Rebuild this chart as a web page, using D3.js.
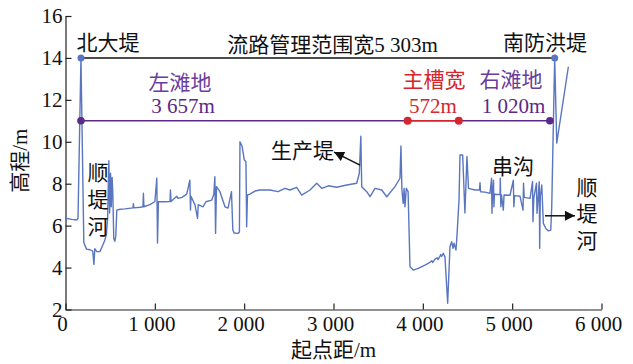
<!DOCTYPE html>
<html>
<head>
<meta charset="utf-8">
<script src="https://cdn.jsdelivr.net/npm/d3@7/dist/d3.min.js"></script>
<style>
  body { margin: 0; background: #fff; }
  text { font-family: "Liberation Serif", "Times New Roman", "Noto Sans CJK SC", serif; }
</style>
</head>
<body>
<svg id="chart" width="633" height="364"></svg>
<script>
// Cross-section survey: station (m from starting point) and bed elevation (m)
const station = [
  0, 70, 125, 140, 173, 205, 235, 275, 305, 318, 328, 350, 385, 418, 440, 458, 472, 485, 494, 504,
  512, 522, 530, 540, 552, 563, 574, 610, 665, 755, 760, 766, 835, 867, 872, 878, 945, 1000, 1022, 1030,
  1040, 1112, 1170, 1175, 1181, 1245, 1259, 1304, 1357, 1392, 1399, 1405, 1450, 1478, 1486, 1539, 1572, 1637, 1660, 1672,
  1680, 1690, 1729, 1785, 1819, 1858, 1873, 1886, 1931, 1947, 1953, 1976, 2002, 2020, 2028, 2037, 2065, 2121, 2177, 2289,
  2379, 2457, 2513, 2588, 2644, 2737, 2812, 2868, 2942, 3036, 3148, 3260, 3289, 3306, 3316, 3372, 3409, 3465, 3540, 3596,
  3688, 3744, 3755, 3766, 3780, 3790, 3800, 3815, 3835, 3856, 3893, 3949, 4024, 4080, 4100, 4110, 4136, 4160, 4170, 4192,
  4200, 4210, 4229, 4248, 4278, 4304, 4323, 4338, 4349, 4371, 4382, 4405, 4416, 4446, 4471, 4494, 4511, 4584, 4634, 4640,
  4646, 4696, 4752, 4769, 4774, 4780, 4791, 4796, 4802, 4864, 4867, 4873, 4881, 4901, 4909, 4976, 5013, 5019, 5027, 5088,
  5122, 5127, 5135, 5200, 5228, 5233, 5242, 5272, 5278, 5289, 5303, 5308, 5315, 5331, 5349, 5379, 5405, 5432, 5443, 5455,
  5476, 5499, 5629
];
const elevation = [
  6.35, 6.30, 6.27, 6.35, 14.0, 5.20, 4.88, 4.85, 4.78, 4.15, 4.90, 4.76, 4.76, 5.08, 5.30, 5.60, 6.40, 9.10, 6.60, 8.50,
  6.90, 8.30, 7.50, 5.40, 5.25, 5.50, 6.74, 6.78, 6.80, 6.85, 7.05, 6.85, 6.88, 6.90, 7.55, 6.90, 7.00, 7.14, 8.26, 5.17,
  7.14, 7.14, 7.15, 7.70, 7.15, 7.40, 7.30, 7.35, 7.50, 8.17, 6.74, 7.40, 6.98, 6.35, 7.00, 6.90, 7.14, 7.22, 7.50, 8.33,
  5.63, 7.86, 7.62, 6.90, 6.84, 7.62, 5.80, 5.65, 5.63, 5.70, 10.0, 9.80, 9.13, 9.05, 5.95, 7.46, 7.50, 7.65, 7.70, 7.70,
  7.62, 7.78, 7.70, 7.83, 7.46, 7.70, 8.02, 7.78, 7.90, 7.83, 7.94, 8.02, 8.50, 10.27, 7.86, 7.62, 7.38, 7.78, 7.70, 7.38,
  7.86, 8.26, 9.80, 7.70, 7.06, 7.78, 6.90, 7.78, 7.62, 4.04, 3.88, 3.96, 4.12, 4.25, 4.33, 4.24, 4.40, 4.47, 4.38, 4.55,
  4.62, 4.53, 4.68, 4.50, 2.30, 5.00, 5.23, 4.92, 5.16, 4.84, 5.50, 7.22, 9.37, 9.37, 6.60, 9.30, 7.78, 7.70, 7.70, 8.05,
  7.62, 7.60, 7.54, 8.26, 6.59, 7.50, 8.17, 6.90, 7.50, 7.48, 8.26, 6.90, 7.46, 6.74, 7.46, 7.45, 8.17, 6.90, 7.43, 7.40,
  6.74, 8.02, 7.35, 7.30, 8.10, 6.19, 7.30, 8.02, 6.59, 7.20, 8.10, 4.92, 7.40, 7.94, 6.11, 5.85, 5.75, 5.79, 6.90, 9.50,
  14.0, 9.94, 13.58
];

const xTicks = [0, 1000, 2000, 3000, 4000, 5000, 6000];
const yTicks = [2, 4, 6, 8, 10, 12, 14, 16];

// River management extents (m)
const northLevee = 173;
const managementWidth = 5303;
const leftFloodplainWidth = 3657;
const mainChannelWidth = 572;
const rightFloodplainWidth = 1020;
const leveeElevation = 14;
const floodplainElevation = 11;

const svg = d3.select("#chart");
const x = d3.scaleLinear().domain([0, 6000]).range([65.5, 601.5]);
const y = d3.scaleLinear().domain([2, 16]).range([309.5, 16]);

const fmt = d => d3.format(",")(d).replace(/,/g, " ");

// Axes with inward ticks
const gx = svg.append("g").attr("transform", `translate(0,${y(2)})`)
  .call(d3.axisBottom(x).tickValues(xTicks).tickFormat(fmt).tickSizeInner(-6).tickSizeOuter(0).tickPadding(7));
const gy = svg.append("g").attr("transform", `translate(${x(0)},0)`)
  .call(d3.axisLeft(y).tickValues(yTicks).tickSizeInner(-6).tickSizeOuter(0).tickPadding(3));
[gx, gy].forEach(g => {
  g.selectAll("path.domain").attr("stroke", "#222").attr("stroke-width", 1.2);
  g.selectAll(".tick line").attr("stroke", "#222").attr("stroke-width", 1.2);
  g.selectAll(".tick text").attr("font-size", 21).attr("fill", "#111")
    .style("font-family", '"Liberation Serif", serif');
});
gx.selectAll(".tick text").attr("dx", -3.5);

// Axis titles
svg.append("text").attr("x", x(3000)).attr("y", 357).attr("text-anchor", "middle")
  .attr("font-size", 21).attr("fill", "#111").text("起点距/m");
svg.append("text").attr("transform", `translate(27,${y(9.1)}) rotate(-90)`).attr("text-anchor", "middle")
  .attr("font-size", 21).attr("fill", "#111").text("高程/m");

// Bed profile
const profile = station.map((s, i) => [s, elevation[i]]);
svg.append("path").datum(profile)
  .attr("fill", "none").attr("stroke", "#5a76c0").attr("stroke-width", 1.4)
  .attr("stroke-linejoin", "round")
  .attr("d", d3.line().x(d => x(d[0])).y(d => y(d[1])));

// Management width between levees
const southLevee = northLevee + managementWidth;
svg.append("line").attr("x1", x(northLevee)).attr("x2", x(southLevee))
  .attr("y1", y(leveeElevation)).attr("y2", y(leveeElevation))
  .attr("stroke", "#111").attr("stroke-width", 1.5);
svg.selectAll("circle.levee").data([northLevee, southLevee]).join("circle")
  .attr("class", "levee").attr("cx", d => x(d)).attr("cy", y(leveeElevation)).attr("r", 3.5)
  .attr("fill", "#5a76c0");

// Floodplains and main channel
const channelLeft = northLevee + leftFloodplainWidth;
const channelRight = channelLeft + mainChannelWidth;
const floodplainRight = channelRight + rightFloodplainWidth;
const purple = "#5b2a88";
const red = "#d4262e";
svg.append("line").attr("x1", x(northLevee)).attr("x2", x(floodplainRight))
  .attr("y1", y(floodplainElevation)).attr("y2", y(floodplainElevation))
  .attr("stroke", purple).attr("stroke-width", 1.5);
svg.append("line").attr("x1", x(channelLeft)).attr("x2", x(channelRight))
  .attr("y1", y(floodplainElevation)).attr("y2", y(floodplainElevation))
  .attr("stroke", red).attr("stroke-width", 1.5);
svg.selectAll("circle.plain").data([northLevee, floodplainRight]).join("circle")
  .attr("class", "plain").attr("cx", d => x(d)).attr("cy", y(floodplainElevation)).attr("r", 3.8)
  .attr("fill", purple);
svg.selectAll("circle.channel").data([channelLeft, channelRight]).join("circle")
  .attr("class", "channel").attr("cx", d => x(d)).attr("cy", y(floodplainElevation)).attr("r", 4)
  .attr("fill", red);

// Text labels
const labels = [
  { s: 476, e: 14.76, t: "北大堤", c: "#111" },
  { s: 2989, e: 14.66, t: "流路管理范围宽" + fmt(managementWidth) + "m", c: "#111" },
  { s: 5367, e: 14.76, t: "南防洪堤", c: "#111" },
  { s: 1282, e: 12.85, t: "左滩地", c: "#6a3c9c" },
  { s: 1315, e: 11.73, t: fmt(leftFloodplainWidth) + "m", c: "#5b2a88" },
  { s: 4125, e: 12.99, t: "主槽宽", c: red },
  { s: 4114, e: 11.75, t: fmt(mainChannelWidth) + "m", c: red },
  { s: 4987, e: 12.99, t: "右滩地", c: "#6a3c9c" },
  { s: 5015, e: 11.75, t: fmt(rightFloodplainWidth) + "m", c: "#5b2a88" },
  { s: 2653, e: 9.58, t: "生产堤", c: "#111" },
  { s: 5009, e: 8.84, t: "串沟", c: "#111" },
  { s: 364, e: 8.56, t: "顺", c: "#111" },
  { s: 364, e: 7.27, t: "堤", c: "#111" },
  { s: 364, e: 5.98, t: "河", c: "#111" },
  { s: 5838, e: 7.84, t: "顺", c: "#111" },
  { s: 5838, e: 6.60, t: "堤", c: "#111" },
  { s: 5838, e: 5.31, t: "河", c: "#111" }
];
svg.selectAll("text.lab").data(labels).join("text")
  .attr("class", "lab")
  .attr("x", d => x(d.s)).attr("y", d => y(d.e)).attr("dy", "0.36em")
  .attr("text-anchor", "middle").attr("font-size", 21).attr("fill", d => d.c)
  .text(d => d.t);

// Arrows
const defs = svg.append("defs");
defs.append("marker").attr("id", "head").attr("viewBox", "0 0 10 10")
  .attr("refX", 10).attr("refY", 5).attr("markerWidth", 15).attr("markerHeight", 10)
  .attr("markerUnits", "userSpaceOnUse").attr("orient", "auto")
  .append("path").attr("d", "M0,0 L10,5 L0,10 Z").attr("fill", "#111");
const arrows = [
  { s0: 3297, e0: 8.89, s1: 3006, e1: 9.51 },
  { s0: 5367, e0: 6.47, s1: 5703, e1: 6.47 }
];
svg.selectAll("line.arrow").data(arrows).join("line")
  .attr("class", "arrow")
  .attr("x1", d => x(d.s0)).attr("y1", d => y(d.e0))
  .attr("x2", d => x(d.s1)).attr("y2", d => y(d.e1))
  .attr("stroke", "#111").attr("stroke-width", 1.5)
  .attr("marker-end", "url(#head)");
</script>
</body>
</html>
